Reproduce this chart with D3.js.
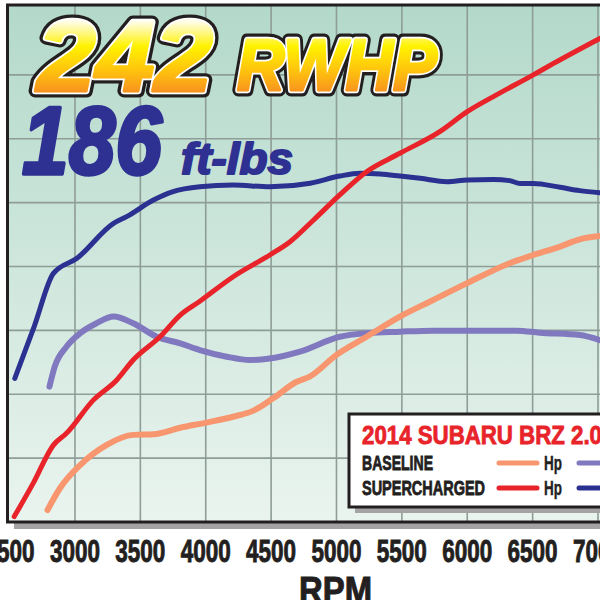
<!DOCTYPE html>
<html>
<head>
<meta charset="utf-8">
<script src="https://cdn.jsdelivr.net/npm/d3@7"></script>
<style>
  html, body { margin: 0; padding: 0; background: #ffffff; }
  svg { display: block; }
</style>
</head>
<body>
<div id="chart"></div>
<script>
// ---------- DATA ----------
const rpmTicks = [2500, 3000, 3500, 4000, 4500, 5000, 5500, 6000, 6500, 7000];
const yGridValues = [75, 100, 125, 150, 175, 200, 225];

const scTqRpm = [2540, 2690, 2835, 3015, 3295, 3395, 3600, 3750, 3955, 4210, 4490, 4800, 5025, 5180, 5335, 5485, 5640, 5845, 6000, 6200, 6325, 6405, 6505, 6710, 6860, 7015];
const scTq    = [106.2, 126.8, 147.3, 153.2, 166.9, 169.5, 176.0, 179.3, 181.2, 181.9, 181.2, 182.6, 185.4, 186.5, 186.2, 185.4, 184.5, 183.2, 183.9, 184.1, 183.6, 182.5, 182.5, 181.0, 179.7, 178.9];

const scHpRpm = [2535, 2680, 2835, 2935, 3140, 3320, 3445, 3650, 3805, 3955, 4210, 4490, 4645, 4825, 5025, 5230, 5485, 5790, 6000, 6200, 6505, 6660, 7015];
const scHp    = [52.1, 65.1, 80.1, 84.7, 97.7, 105.6, 113.4, 122.5, 131.0, 136.4, 146.0, 154.5, 159.7, 168.2, 178.0, 187.1, 194.3, 202.8, 210.6, 216.5, 225.0, 229.5, 239.3];

const blTqRpm = [2805, 2845, 2935, 3040, 3165, 3295, 3445, 3625, 3805, 3955, 4160, 4340, 4490, 4720, 5025, 5230, 5485, 5740, 6380, 6555, 6860, 7015];
const blTq    = [103.0, 110.8, 118.6, 123.9, 127.8, 130.4, 127.8, 122.5, 119.9, 117.3, 114.7, 113.4, 114.0, 116.7, 122.5, 123.9, 124.5, 124.9, 124.9, 124.1, 123.2, 121.2];

const blHpRpm = [2790, 2885, 3040, 3240, 3445, 3600, 3805, 4005, 4210, 4365, 4515, 4695, 4795, 5000, 5230, 5485, 5740, 5995, 6325, 6505, 6710, 6860, 7015];
const blHp    = [54.7, 63.2, 72.3, 80.1, 84.1, 84.3, 86.9, 88.9, 91.2, 93.6, 98.4, 104.9, 106.9, 115.4, 122.5, 130.4, 136.9, 143.4, 151.3, 154.5, 157.8, 160.6, 161.9];

const legendTitle = "2014 SUBARU BRZ 2.0";
const legendRows = ["BASELINE", "SUPERCHARGED"];
const headline1 = "242", headline1b = "RWHP";
const headline2 = "186", headline2b = "ft-lbs";
const xAxisTitle = "RPM";

// ---------- LAYOUT ----------
const W = 600, H = 600;
const plot = { left: 7.5, top: 5, bottom: 522, right: 700 };

const svg = d3.select("#chart").append("svg")
  .attr("width", W).attr("height", H).style("overflow", "hidden");

const defs = svg.append("defs");
const bg = defs.append("linearGradient").attr("id", "bg")
  .attr("x1", 0).attr("y1", 0).attr("x2", 0).attr("y2", 1);
bg.append("stop").attr("offset", 0).attr("stop-color", "#b3d9ca");
bg.append("stop").attr("offset", 1).attr("stop-color", "#eaf4ef");

const gold = defs.append("linearGradient").attr("id", "gold")
  .attr("gradientUnits", "userSpaceOnUse")
  .attr("x1", 0).attr("y1", 22).attr("x2", 0).attr("y2", 92);
gold.append("stop").attr("offset", 0).attr("stop-color", "#fffde6");
gold.append("stop").attr("offset", 0.35).attr("stop-color", "#fff200");
gold.append("stop").attr("offset", 0.7).attr("stop-color", "#ffc20e");
gold.append("stop").attr("offset", 1).attr("stop-color", "#f7931e");

const x = d3.scaleLinear().domain([2500, 7000]).range([9.6, 598]);
const y = d3.scaleLinear().domain([50, 50 + (plot.bottom - plot.top) / 2.555]).range([plot.bottom, plot.top]);

// plot shadow + background
svg.append("rect").attr("x", plot.left + 6.5).attr("y", plot.top + 7)
  .attr("width", plot.right - plot.left).attr("height", plot.bottom - plot.top)
  .attr("fill", "#a3a3a3");
svg.append("rect").attr("x", plot.left).attr("y", plot.top)
  .attr("width", plot.right - plot.left).attr("height", plot.bottom - plot.top)
  .attr("fill", "url(#bg)");

// grid
const grid = svg.append("g").attr("stroke", "#8e9d97").attr("stroke-width", 1.6);
grid.selectAll("line.v").data(rpmTicks.filter(d => d > 2500)).join("line")
  .attr("x1", d => x(d)).attr("x2", d => x(d))
  .attr("y1", plot.top).attr("y2", plot.bottom);
grid.selectAll("line.h").data(yGridValues).join("line")
  .attr("x1", plot.left).attr("x2", plot.right)
  .attr("y1", d => y(d)).attr("y2", d => y(d));

// plot border
svg.append("rect").attr("x", plot.left).attr("y", plot.top)
  .attr("width", plot.right - plot.left).attr("height", plot.bottom - plot.top)
  .attr("fill", "none").attr("stroke", "#231f20").attr("stroke-width", 3);

// headline texts
const hl = svg.append("g").attr("font-family", "'Liberation Sans', Arial, sans-serif")
  .attr("font-weight", "bold").attr("font-style", "italic");
function goldText(txt, xx, yy, fs, len) {
  const base = () => hl.append("text").attr("x", xx).attr("y", yy).attr("font-size", fs)
    .attr("textLength", len).attr("lengthAdjust", "spacingAndGlyphs")
    .attr("stroke-linejoin", "round").text(txt);
  base().attr("fill", "#231f20").attr("stroke", "#231f20").attr("stroke-width", 13);
  base().attr("fill", "#ffffff").attr("stroke", "#ffffff").attr("stroke-width", 6.5);
  base().attr("fill", "url(#gold)").attr("stroke", "url(#gold)").attr("stroke-width", 3);
}
goldText(headline1, 37, 91, 101, 176);
goldText(headline1b, 237, 90, 73, 200);
hl.append("text").attr("x", 22).attr("y", 174).attr("font-size", 97)
  .attr("textLength", 140).attr("lengthAdjust", "spacingAndGlyphs")
  .attr("fill", "#2e3192").attr("stroke", "#2e3192").attr("stroke-width", 3.5)
  .attr("stroke-linejoin", "round").text(headline2);
hl.append("text").attr("x", 181).attr("y", 174).attr("font-size", 44)
  .attr("textLength", 112).attr("lengthAdjust", "spacingAndGlyphs")
  .attr("fill", "#2e3192").attr("stroke", "#2e3192").attr("stroke-width", 2)
  .attr("stroke-linejoin", "round").text(headline2b);

// curves
const line = d3.line().x(d => x(d[0])).y(d => y(d[1])).curve(d3.curveMonotoneX);
const zip = (a, b) => a.map((v, i) => [v, b[i]]);
const series = [
  { rpm: blTqRpm, val: blTq, color: "#8079c0", w: 6 },
  { rpm: blHpRpm, val: blHp, color: "#f7966f", w: 6 },
  { rpm: scTqRpm, val: scTq, color: "#2b3190", w: 5 },
  { rpm: scHpRpm, val: scHp, color: "#e8232a", w: 5 }
];
svg.append("g").selectAll("path").data(series).join("path")
  .attr("d", d => line(zip(d.rpm, d.val)))
  .attr("fill", "none").attr("stroke", d => d.color).attr("stroke-width", d => d.w)
  .attr("stroke-linecap", "round").attr("stroke-linejoin", "round");

// legend
const lg = svg.append("g").attr("font-family", "'Liberation Sans', Arial, sans-serif")
  .attr("font-weight", "bold");
lg.append("rect").attr("x", 355).attr("y", 420).attr("width", 300).attr("height", 93).attr("fill", "#a3a3a3");
lg.append("rect").attr("x", 349).attr("y", 414).attr("width", 300).attr("height", 93)
  .attr("fill", "#ffffff").attr("stroke", "#231f20").attr("stroke-width", 3);
lg.append("text").attr("x", 362).attr("y", 444).attr("font-size", 25)
  .attr("textLength", 240).attr("lengthAdjust", "spacingAndGlyphs")
  .attr("fill", "#e8232a").attr("stroke", "#e8232a").attr("stroke-width", 0.8).text(legendTitle);
const rowY = [470, 495];
const rowLen = [71, 123];
const hpColors = ["#f7966f", "#e8232a"];
const tqColors = ["#8079c0", "#2b3190"];
legendRows.forEach((r, i) => {
  lg.append("text").attr("x", 362).attr("y", rowY[i]).attr("font-size", 20)
    .attr("textLength", rowLen[i]).attr("lengthAdjust", "spacingAndGlyphs")
    .attr("fill", "#231f20").attr("stroke", "#231f20").attr("stroke-width", 0.8).text(r);
  lg.append("line").attr("x1", 499).attr("x2", 537).attr("y1", rowY[i] - 7).attr("y2", rowY[i] - 7)
    .attr("stroke", hpColors[i]).attr("stroke-width", 5).attr("stroke-linecap", "round");
  lg.append("text").attr("x", 544).attr("y", rowY[i]).attr("font-size", 20)
    .attr("textLength", 18).attr("lengthAdjust", "spacingAndGlyphs")
    .attr("fill", "#231f20").attr("stroke", "#231f20").attr("stroke-width", 0.4).text("Hp");
  lg.append("line").attr("x1", 579).attr("x2", 640).attr("y1", rowY[i] - 7).attr("y2", rowY[i] - 7)
    .attr("stroke", tqColors[i]).attr("stroke-width", 5).attr("stroke-linecap", "round");
});

// x axis labels
const ax = svg.append("g").attr("font-family", "'Liberation Sans', Arial, sans-serif")
  .attr("font-weight", "bold").attr("fill", "#231f20").attr("stroke", "#231f20");
ax.selectAll("text.tick").data(rpmTicks).join("text")
  .attr("x", d => x(d)).attr("y", 562).attr("text-anchor", "middle")
  .attr("font-size", 30.5).attr("textLength", 50).attr("lengthAdjust", "spacingAndGlyphs")
  .attr("stroke-width", 0.9)
  .text(d => d);
ax.append("text").attr("x", 299).attr("y", 603).attr("font-size", 36)
  .attr("stroke-width", 1)
  .attr("textLength", 73).attr("lengthAdjust", "spacingAndGlyphs").text(xAxisTitle);
</script>
</body>
</html>
